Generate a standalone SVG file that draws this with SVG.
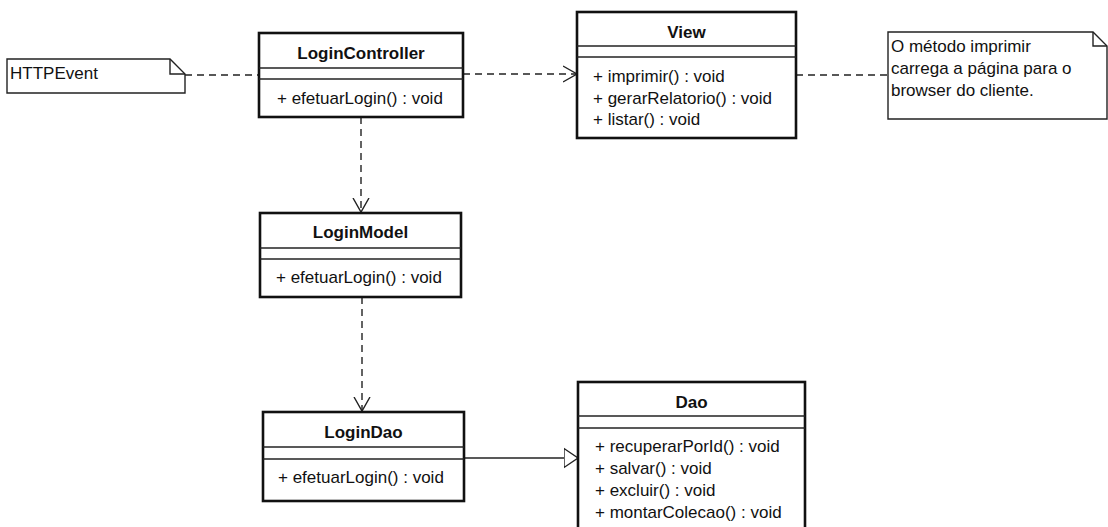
<svg xmlns="http://www.w3.org/2000/svg" width="1108" height="527" viewBox="0 0 1108 527">
<defs>
<style>
.box{fill:#fff;stroke:#111;stroke-width:2.6}
.sep{stroke:#222;stroke-width:1.4;fill:none}
.note{fill:#fff;stroke:#222;stroke-width:1.4}
.title{font-family:"Liberation Sans",Arial,sans-serif;font-size:17px;font-weight:bold;fill:#111;text-anchor:middle}
.txt{font-family:"Liberation Sans",Arial,sans-serif;font-size:17px;fill:#111}
.dash{stroke:#222;stroke-width:1.4;fill:none;stroke-dasharray:7 5}
.solid{stroke:#222;stroke-width:1.4;fill:none}
</style>
<marker id="open" markerWidth="16" markerHeight="20" refX="14" refY="8" orient="auto" markerUnits="userSpaceOnUse" viewBox="0 0 16 16">
<path d="M0,0 L14,8 L0,16" fill="none" stroke="#222" stroke-width="1.4"/>
</marker>
<marker id="tri" markerWidth="16" markerHeight="22" refX="14" refY="10" orient="auto" markerUnits="userSpaceOnUse" viewBox="0 0 16 20">
<path d="M0,0.5 L14,10 L0,19.5 Z" fill="#fff" stroke="#222" stroke-width="1.4"/>
</marker>
</defs>
<rect width="1108" height="527" fill="#fff"/>

<g id="connectors">
<line class="dash" x1="185" y1="75" x2="259" y2="75"/>
<line class="dash" x1="463" y1="74" x2="577" y2="74" marker-end="url(#open)"/>
<line class="dash" x1="796" y1="75" x2="888" y2="75"/>
<line class="dash" x1="361" y1="117" x2="361" y2="212" marker-end="url(#open)"/>
<line class="dash" x1="362" y1="297" x2="362" y2="411" marker-end="url(#open)"/>
<line class="solid" x1="464" y1="458" x2="578" y2="458" marker-end="url(#tri)"/>
</g>

<g id="note-httpevent">
<path class="note" d="M7,59 H170 L185,74 V93 H7 Z"/>
<path class="sep" d="M170,59 V74 H185"/>
<text class="txt" x="10" y="79">HTTPEvent</text>
</g>

<g id="LoginController">
<rect class="box" x="259" y="33" width="204" height="84"/>
<line class="sep" x1="259" y1="68" x2="463" y2="68"/>
<line class="sep" x1="259" y1="79" x2="463" y2="79"/>
<text class="title" x="361" y="59">LoginController</text>
<text class="txt" x="277" y="104">+ efetuarLogin() : void</text>
</g>

<g id="View">
<rect class="box" x="577" y="12" width="219" height="126"/>
<line class="sep" x1="577" y1="46" x2="796" y2="46"/>
<line class="sep" x1="577" y1="57" x2="796" y2="57"/>
<text class="title" x="686.5" y="38">View</text>
<text class="txt" x="593" y="82">+ imprimir() : void</text>
<text class="txt" x="593" y="104">+ gerarRelatorio() : void</text>
<text class="txt" x="593" y="125">+ listar() : void</text>
</g>

<g id="note-imprimir">
<path class="note" d="M888,32 H1093 L1107,46 V119 H888 Z"/>
<path class="sep" d="M1093,32 V46 H1107"/>
<text class="txt" x="891" y="52">O método imprimir</text>
<text class="txt" x="891" y="74">carrega a página para o</text>
<text class="txt" x="891" y="96">browser do cliente.</text>
</g>

<g id="LoginModel">
<rect class="box" x="260" y="213" width="201" height="84"/>
<line class="sep" x1="260" y1="248" x2="461" y2="248"/>
<line class="sep" x1="260" y1="259" x2="461" y2="259"/>
<text class="title" x="360.5" y="238">LoginModel</text>
<text class="txt" x="276" y="283">+ efetuarLogin() : void</text>
</g>

<g id="LoginDao">
<rect class="box" x="263" y="412" width="201" height="89"/>
<line class="sep" x1="263" y1="447" x2="464" y2="447"/>
<line class="sep" x1="263" y1="459" x2="464" y2="459"/>
<text class="title" x="363.5" y="438">LoginDao</text>
<text class="txt" x="278" y="483">+ efetuarLogin() : void</text>
</g>

<g id="Dao">
<rect class="box" x="578" y="382" width="227" height="160"/>
<line class="sep" x1="578" y1="416" x2="805" y2="416"/>
<line class="sep" x1="578" y1="428" x2="805" y2="428"/>
<text class="title" x="691.5" y="408">Dao</text>
<text class="txt" x="595" y="452">+ recuperarPorId() : void</text>
<text class="txt" x="595" y="474">+ salvar() : void</text>
<text class="txt" x="595" y="496">+ excluir() : void</text>
<text class="txt" x="595" y="518">+ montarColecao() : void</text>
</g>
</svg>
